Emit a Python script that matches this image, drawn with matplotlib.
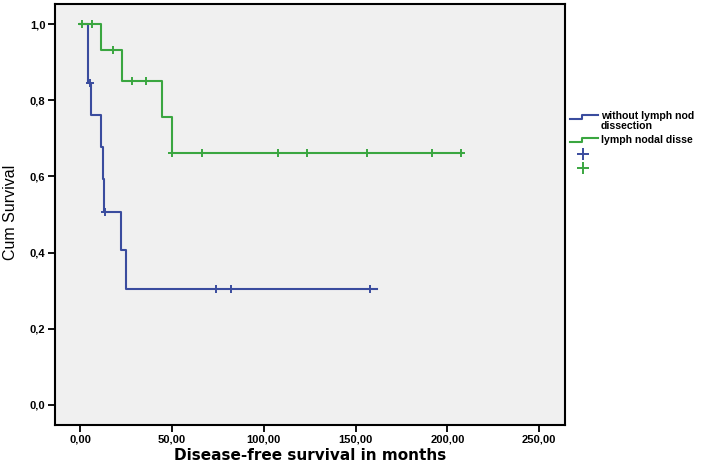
import matplotlib
matplotlib.use("Agg")
import matplotlib.pyplot as plt
from matplotlib.lines import Line2D

# ---- data ----
blue_times = [0, 4.3, 6.0, 11.4, 12.5, 13.0, 22.2, 24.9, 161.5]
blue_surv = [1.0, 0.846, 0.761, 0.677, 0.592, 0.507, 0.406, 0.304, 0.304]
blue_cens_t = [5.4, 13.5, 74.0, 82.0, 158.0]
blue_cens_s = [0.846, 0.507, 0.304, 0.304, 0.304]

green_times = [0, 11.4, 22.8, 44.5, 49.9, 208.0]
green_surv = [1.0, 0.932, 0.850, 0.756, 0.662, 0.662]
green_cens_t = [1.0, 6.5, 17.9, 28.2, 35.8, 50.0, 66.4, 107.8, 123.6, 156.3, 191.7, 207.5]
green_cens_s = [1.0, 1.0, 0.932, 0.850, 0.850, 0.662, 0.662, 0.662, 0.662, 0.662, 0.662, 0.662]

xticks = [0, 50, 100, 150, 200, 250]
xticklabels = ["0,00", "50,00", "100,00", "150,00", "200,00", "250,00"]
yticks = [0.0, 0.2, 0.4, 0.6, 0.8, 1.0]
yticklabels = ["0,0", "0,2", "0,4", "0,6", "0,8", "1,0"]

legend_labels = ["without lymph nod\ndissection", "lymph nodal disse"]

BLUE = "#3a4c9e"
GREEN = "#3aa640"

plt.rcParams["font.family"] = ["Liberation Sans", "DejaVu Sans"]

fig = plt.figure(figsize=(7.14, 4.66), dpi=100)
ax = fig.add_axes([55 / 714, 1 - 425 / 466, 510 / 714, 421 / 466])
ax.set_facecolor("#f0f0f0")

ax.step(blue_times, blue_surv, where="post", color=BLUE, lw=1.5)
ax.step(green_times, green_surv, where="post", color=GREEN, lw=1.5)
ax.plot(blue_cens_t, blue_cens_s, ls="none", marker="+", ms=6, mew=1.4, color=BLUE)
ax.plot(green_cens_t, green_cens_s, ls="none", marker="+", ms=6, mew=1.4, color=GREEN)

ax.set_xlim(-13.6, 264)
ax.set_ylim(-0.0525, 1.0525)
ax.set_xticks(xticks)
ax.set_xticklabels(xticklabels, fontsize=8, fontweight="bold")
ax.set_yticks(yticks)
ax.set_yticklabels(yticklabels, fontsize=8, fontweight="bold")
ax.tick_params(axis="x", direction="out", length=5, width=1.3, pad=1.5)
ax.tick_params(axis="y", direction="out", length=5, width=1.3, pad=2)
for s in ax.spines.values():
    s.set_linewidth(1.5)
    s.set_color("black")

ax.set_xlabel("Disease-free survival in months", fontsize=11, fontweight="bold",
              family=["DejaVu Sans"])
ax.xaxis.set_label_coords(0.5, -0.055)
ax.set_ylabel("Cum Survival", fontsize=11.5)
ax.yaxis.set_label_coords(-0.0725, 0.505)

# ---- legend drawn outside on the right ----
def fx(px):
    return px / 714

def fy(py):
    return 1 - py / 466

def step_sample(y, color):
    xs = [fx(570), fx(582), fx(582), fx(598)]
    ys = [fy(y + 2), fy(y + 2), fy(y - 2), fy(y - 2)]
    fig.add_artist(Line2D(xs, ys, color=color, lw=1.5, transform=fig.transFigure))

step_sample(117, BLUE)
fig.text(fx(601), fy(121), legend_labels[0], fontsize=7.6, fontweight="bold",
         va="center", ha="left", linespacing=0.95)
step_sample(140, GREEN)
fig.text(fx(601), fy(140), legend_labels[1], fontsize=7.6, fontweight="bold",
         va="center", ha="left")
fig.add_artist(Line2D([fx(583)], [fy(154)], ls="none", marker="+", ms=9, mew=1.4,
                      color=BLUE, transform=fig.transFigure))
fig.add_artist(Line2D([fx(583)], [fy(168)], ls="none", marker="+", ms=9, mew=1.4,
                      color=GREEN, transform=fig.transFigure))

fig.savefig("out.png", dpi=100, facecolor="white")
